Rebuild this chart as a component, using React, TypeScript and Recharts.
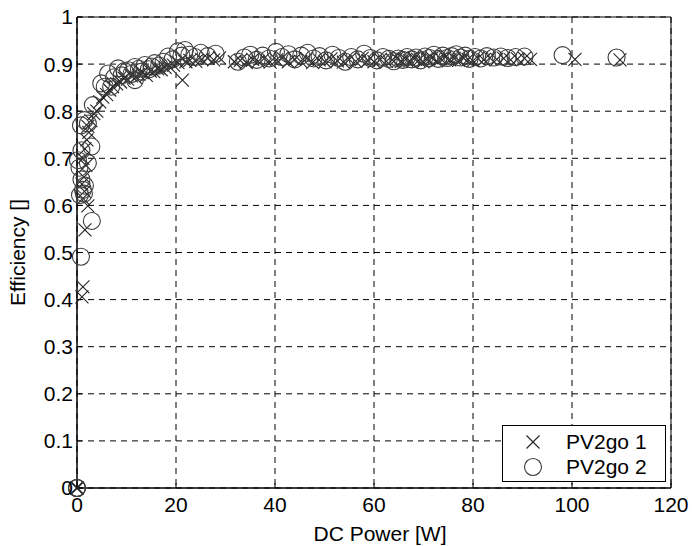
import React from "react";
import {
  ScatterChart,
  Scatter,
  XAxis,
  YAxis,
  CartesianGrid,
  ReferenceArea,
  Legend,
  Label,
} from "recharts";

// ---- data ----
const xTicks = [0, 20, 40, 60, 80, 100, 120];
const yTicks = [0, 0.1, 0.2, 0.3, 0.4, 0.5, 0.6, 0.7, 0.8, 0.9, 1];
const seriesNames = ["PV2go 1", "PV2go 2"];

const pv1Power = [
  0, 0, 0, 1.0, 1.2, 1.6, 2.2, 1.2, 1.5, 1.0, 1.4, 1.8, 1.2, 1.6, 2.0, 2.4, 2.2, 2.8, 3.4, 4.0, 4.6,
  5.2, 6.0, 6.6, 7.2, 8.0, 8.8, 9.5, 10.2, 11.0, 11.8, 12.5, 13.2, 14.0, 14.8, 15.5, 16.3, 17.0,
  17.8, 18.6, 19.5, 20.4, 21.3, 22.0, 22.8, 24.0, 25.2, 26.4, 27.6, 28.8, 31.8, 33.0, 34.2, 35.5,
  36.6, 37.8, 39.0, 40.3, 41.5, 42.7, 44.0, 45.2, 46.4, 47.6, 48.9, 50.1, 51.3, 52.6, 53.8, 55.0,
  56.3, 57.6, 58.8, 60.0, 61.3, 62.5, 63.7, 64.6, 65.5, 66.4, 67.2, 68.1, 69.0, 69.9, 70.8, 71.7,
  72.6, 73.5, 74.4, 75.3, 76.2, 77.1, 78.0, 79.0, 80.0, 81.0, 82.2, 83.4, 84.8, 86.2, 87.6, 89.0,
  90.4, 91.6, 100.6, 109.7,
];
const pv1Eff = [
  0, 0, 0, 0.406, 0.427, 0.548, 0.599, 0.615, 0.63, 0.645, 0.66, 0.685, 0.7, 0.72, 0.739, 0.755,
  0.768, 0.78, 0.795, 0.8, 0.82, 0.83, 0.835, 0.845, 0.852, 0.858, 0.862, 0.87, 0.868, 0.875,
  0.872, 0.878, 0.882, 0.876, 0.885, 0.884, 0.89, 0.888, 0.893, 0.895, 0.898, 0.903, 0.866, 0.905,
  0.908, 0.906, 0.91, 0.912, 0.909, 0.913, 0.905, 0.908, 0.903, 0.91, 0.906, 0.912, 0.904, 0.909,
  0.913, 0.905, 0.91, 0.906, 0.912, 0.903, 0.909, 0.905, 0.911, 0.907, 0.904, 0.91, 0.906, 0.912,
  0.908, 0.905, 0.91, 0.906, 0.909, 0.912, 0.906, 0.91, 0.907, 0.912, 0.908, 0.905, 0.91, 0.913,
  0.907, 0.911, 0.915, 0.909, 0.912, 0.908, 0.914, 0.91, 0.907, 0.912, 0.909, 0.913, 0.91, 0.912,
  0.909, 0.911, 0.912, 0.91, 0.91, 0.909,
];

const pv2Power = [
  0, 0, 0, 0.8, 3.0, 0.6, 1.2, 1.6, 0.9, 1.4, 0.5, 0.2, 0.9, 2.2, 2.9, 2.2, 1.5, 0.8, 3.2, 4.9, 5.6,
  6.3, 6.9, 7.5, 8.3, 9.0, 9.6, 10.3, 11.0, 11.7, 11.7, 12.5, 13.1, 13.7, 14.5, 15.1, 15.7, 16.6,
  17.5, 18.4, 19.3, 20.4, 21.1, 21.8, 22.7, 23.8, 25.0, 26.4, 28.0, 32.5, 33.8, 35.0, 36.3, 37.5,
  38.8, 40.2, 41.4, 42.7, 44.0, 45.3, 46.6, 47.8, 49.0, 50.3, 51.6, 52.9, 54.2, 55.4, 56.7, 58.0,
  59.3, 60.6, 61.8, 63.0, 64.0, 64.9, 65.8, 66.7, 67.6, 68.5, 69.4, 70.3, 71.2, 72.1, 73.0, 73.9,
  74.8, 75.7, 76.6, 77.5, 78.4, 79.3, 80.4, 81.6, 82.8, 84.2, 85.6, 87.0, 88.6, 90.4, 98.1, 109.0,
];
const pv2Eff = [
  0, 0, 0, 0.491, 0.567, 0.622, 0.633, 0.642, 0.655, 0.625, 0.68, 0.696, 0.717, 0.69, 0.725, 0.774,
  0.781, 0.77, 0.813, 0.859, 0.852, 0.88, 0.852, 0.872, 0.891, 0.876, 0.885, 0.887, 0.879, 0.894,
  0.866, 0.89, 0.884, 0.898, 0.889, 0.895, 0.902, 0.897, 0.905, 0.916, 0.91, 0.927, 0.918, 0.93,
  0.92, 0.915, 0.924, 0.917, 0.922, 0.905, 0.914, 0.92, 0.909, 0.918, 0.912, 0.926, 0.915, 0.921,
  0.91, 0.918, 0.924, 0.912, 0.917, 0.908, 0.92, 0.913, 0.905, 0.915, 0.91, 0.922, 0.913, 0.908,
  0.915, 0.911, 0.906, 0.912, 0.909, 0.915, 0.91, 0.914, 0.908, 0.916, 0.913, 0.92, 0.911, 0.918,
  0.913, 0.917, 0.921, 0.914, 0.918, 0.911, 0.915, 0.912, 0.917, 0.914, 0.916, 0.913, 0.915,
  0.916, 0.919, 0.914,
];

const pv1Data = pv1Power.map((p, i) => ({ p, e: pv1Eff[i] }));
const pv2Data = pv2Power.map((p, i) => ({ p, e: pv2Eff[i] }));

const FONT = "'Liberation Sans', Arial, sans-serif";
const X_COLOR = "#222";
const O_COLOR = "#3c3c3c";

const XMark = (props: any) => {
  const { cx, cy } = props;
  if (cx == null || cy == null) return null;
  const s = 6.5;
  return (
    <g stroke={X_COLOR} strokeWidth={1.1}>
      <line x1={cx - s} y1={cy - s} x2={cx + s} y2={cy + s} />
      <line x1={cx - s} y1={cy + s} x2={cx + s} y2={cy - s} />
    </g>
  );
};

const OMark = (props: any) => {
  const { cx, cy } = props;
  if (cx == null || cy == null) return null;
  return <circle cx={cx} cy={cy} r={8.5} fill="none" stroke={O_COLOR} strokeWidth={1.1} />;
};

const LegendBox = () => (
  <div
    style={{
      width: 164,
      height: 57,
      boxSizing: "border-box",
      border: "1px solid #000",
      background: "#fff",
    }}
  >
    <svg width={162} height={55} style={{ display: "block" }}>
      <XMark cx={30} cy={16} />
      <text x={63} y={16} dy="0.355em" fontFamily={FONT} fontSize={21} fill="#000">
        {seriesNames[0]}
      </text>
      <OMark cx={30} cy={41} />
      <text x={63} y={41} dy="0.355em" fontFamily={FONT} fontSize={21} fill="#000">
        {seriesNames[1]}
      </text>
    </svg>
  </div>
);

const fmtY = (v: number) => (v === 0 ? "0" : v === 1 ? "1" : String(v));

export default function App() {
  return (
    <div style={{ position: "fixed", left: 0, top: 0, width: 692, height: 546, background: "#fff" }}>
      <ScatterChart
        width={692}
        height={546}
        margin={{ top: 17, right: 21, left: 0, bottom: 0 }}
        style={{ fontFamily: FONT }}
      >
        <CartesianGrid stroke="#000" strokeDasharray="6 5" strokeWidth={1} />
        <XAxis
          type="number"
          dataKey="p"
          domain={[0, 120]}
          ticks={xTicks}
          interval={0}
          height={58}
          axisLine={{ stroke: "#000" }}
          tickLine={{ stroke: "#000" }}
          tickSize={-5}
          tickMargin={14}
          tick={{ fill: "#000", fontSize: 21, fontFamily: FONT }}
        >
          <Label
            content={() => (
              <text x={380} y={541} textAnchor="middle" fontFamily={FONT} fontSize={21} fill="#000">
                DC Power [W]
              </text>
            )}
          />
        </XAxis>
        <YAxis
          type="number"
          dataKey="e"
          domain={[0, 1]}
          ticks={yTicks}
          interval={0}
          width={77}
          axisLine={{ stroke: "#000" }}
          tickLine={{ stroke: "#000" }}
          tickSize={-5}
          tickMargin={9}
          tickFormatter={fmtY}
          tick={{ fill: "#000", fontSize: 21, fontFamily: FONT }}
        >
          <Label
            content={(props: any) => {
              const vb = props.viewBox || { y: 17, height: 471 };
              const cy = vb.y + vb.height / 2;
              return (
                <text
                  x={25}
                  y={cy}
                  transform={`rotate(-90 25 ${cy})`}
                  textAnchor="middle"
                  fontFamily={FONT}
                  fontSize={21}
                  fill="#000"
                >
                  Efficiency []
                </text>
              );
            }}
          />
        </YAxis>
        <ReferenceArea x1={0} x2={120} y1={0} y2={1} fill="none" stroke="#000" strokeWidth={1} ifOverflow="visible" />
        <Scatter
          name={seriesNames[0]}
          data={pv1Data}
          shape={(p: any) => <XMark {...p} />}
          isAnimationActive={false}
        />
        <Scatter
          name={seriesNames[1]}
          data={pv2Data}
          shape={(p: any) => <OMark {...p} />}
          isAnimationActive={false}
        />
        <Legend
          layout="horizontal"
          verticalAlign="middle"
          align="center"
          wrapperStyle={{ left: 502, top: 425, width: 164, height: 57 }}
          content={() => <LegendBox />}
        />
      </ScatterChart>
    </div>
  );
}
